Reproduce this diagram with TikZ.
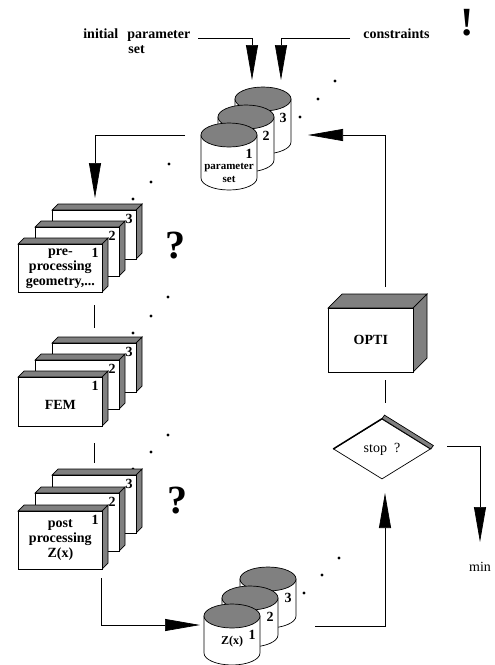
\documentclass[tikz,border=0pt]{standalone}
\usepackage{fontspec}
\setmainfont{Liberation Serif}
\usetikzlibrary{arrows.meta,shapes.geometric}

\definecolor{shade}{gray}{0.5}

\tikzset{
  txt/.style={inner sep=0pt, font=\fontsize{14}{15}\selectfont\bfseries},
  plaintxt/.style={inner sep=0pt, font=\fontsize{14}{15}\selectfont},
  smalltxt/.style={inner sep=0pt, align=center, font=\fontsize{11}{13}\selectfont\bfseries},
  numlbl/.style={inner sep=0pt, font=\fontsize{14}{14}\selectfont\bfseries},
  bigmark/.style={inner sep=0pt, font=\fontsize{40}{40}\selectfont\bfseries},
  frontbox/.style={draw, fill=white, inner sep=0pt, anchor=north west, align=center,
    font=\fontsize{14}{15}\selectfont\bfseries},
  bigarrow/.style={-{Triangle[length=35pt,width=12pt]}},
}

\newcommand{\slab}[8]{%
  \filldraw[fill=shade] (#2,#3) -- ++(#6,-#6) -- ++(#4,0) -- ++(-#6,#6) -- cycle;
  \filldraw[fill=shade] (#2+#4,#3) -- ++(#6,-#6) -- ++(0,#5) -- ++(-#6,#6) -- cycle;
  \node[frontbox, minimum width=#4, minimum height=#5] (#1) at (#2,#3) {#8};
  \node[numlbl] (#1num) at (#2+#4-7,#3+9) {#7};}

\newcommand{\drum}[5]{%
  \filldraw[fill=white] (#2-28,#3) -- (#2-28,#3+#4)
    arc[start angle=180, end angle=0, x radius=28, y radius=12] -- (#2+28,#3) -- cycle;
  \filldraw[fill=shade] (#2,#3) ellipse[x radius=28, y radius=12];
  \node[numlbl] (#1) at (#2+20,#3+19) {#5};}

\begin{document}
\begin{tikzpicture}[x=1pt, y=-1pt, line width=0.7pt]
    \useasboundingbox (0,0) rectangle (495,665);

    \node[txt, anchor=base west] (initlbl) at (83,38) {initial};
    \node[txt, anchor=base west] (parmlbl) at (127,38) {parameter};
    \node[txt, anchor=base west] (setlbl) at (128,53) {set};
    \node[txt, anchor=base west] (conlbl) at (363,38) {constraints};
    \node[bigmark] (bang) at (467,23) {!};

    \coordinate (initsrc) at (198,38);
    \coordinate (initin) at (252,80);
    \draw[bigarrow] (initsrc) -| (initin);
    \coordinate (consrc) at (350,38);
    \coordinate (conin) at (281,80);
    \draw[bigarrow] (consrc) -| (conin);

    \drum{set3}{263}{99}{43}{3}
    \drum{set2}{246}{117}{43}{2}
    \drum{set1}{229}{135}{43}{1}
    \node[smalltxt] (settxt) at (229,173) {parameter\\set};

    \fill (300,117) circle[radius=1.6] (318,99) circle[radius=1.6] (335,81) circle[radius=1.6];
    \fill (169,164) circle[radius=1.6] (151,182) circle[radius=1.6] (133,199) circle[radius=1.6];

    \coordinate (setout) at (185,135);
    \coordinate (prein) at (95,198);
    \draw[bigarrow] (setout) -| (prein);

    \slab{pre3}{52}{210}{84}{49}{6}{3}{}
    \slab{pre2}{35}{227}{84}{49}{6}{2}{}
    \slab{pre1}{18}{244}{84}{48}{6}{1}{pre-\\processing\\geometry,...}
    \node[bigmark] (preq) at (175,246) {?};

    \fill (168,297) circle[radius=1.6] (151,316) circle[radius=1.6] (133,333) circle[radius=1.6];

    \coordinate (preout) at (94,305);
    \coordinate (femin) at (94,328);
    \draw (preout) -- (femin);

    \slab{fem3}{52}{343}{84}{49}{6}{3}{}
    \slab{fem2}{35}{360}{84}{49}{6}{2}{}
    \slab{fem1}{18}{377}{84}{49}{6}{1}{\\FEM}

    \fill (168,435) circle[radius=1.6] (151,452) circle[radius=1.6] (133,469) circle[radius=1.6];

    \coordinate (femout) at (94,443);
    \coordinate (postin) at (94,463);
    \draw (femout) -- (postin);

    \slab{post3}{52}{475}{84}{58}{6}{3}{}
    \slab{post2}{35}{493}{84}{58}{6}{2}{}
    \slab{post1}{18}{511}{84}{58}{6}{1}{post\\processing\\Z(x)}
    \node[bigmark] (postq) at (177,501) {?};

    \coordinate (postout) at (101,578);
    \coordinate (zin) at (200,625);
    \draw[bigarrow] (postout) |- (zin);

    \drum{z3}{268}{579}{37}{3}
    \drum{z2}{250}{598}{37}{2}
    \drum{z1}{232}{616}{37}{1}
    \node[smalltxt, font=\fontsize{12}{13}\selectfont\bfseries] (ztxt) at (232,642) {Z(x)};

    \fill (304,593) circle[radius=1.6] (322,575) circle[radius=1.6] (339,558) circle[radius=1.6];

    \coordinate (zout) at (315,626);
    \coordinate (stopin) at (385,493);
    \draw[bigarrow] (zout) -| (stopin);

    \slab{opti}{328}{308}{85}{64}{14}{}{OPTI}

    \coordinate (optiout) at (385,287);
    \coordinate (setin) at (308,135);
    \draw[bigarrow] (optiout) |- (setin);

    \node[diamond, draw, fill=white, minimum width=97, minimum height=60, inner sep=0pt,
      font=\fontsize{14}{15}\selectfont] (stop) at (382,449) {stop\enspace ?};
    \filldraw[fill=shade] (stop.north) -- ++(2.5,-3.5) -- ([shift={(2.5,-3.5)}]stop.east) -- (stop.east) -- cycle;
    \draw[line width=1.4pt] (stop.west) -- (stop.north);

    \coordinate (optidown) at (385,380);
    \coordinate (stopup) at (385,403);
    \draw (optidown) -- (stopup);

    \coordinate (stopout) at (447,446);
    \coordinate (minin) at (480,542);
    \draw[bigarrow] (stopout) -| (minin);
    \node[plaintxt] (minlbl) at (480,567) {min};
\end{tikzpicture}
\end{document}
